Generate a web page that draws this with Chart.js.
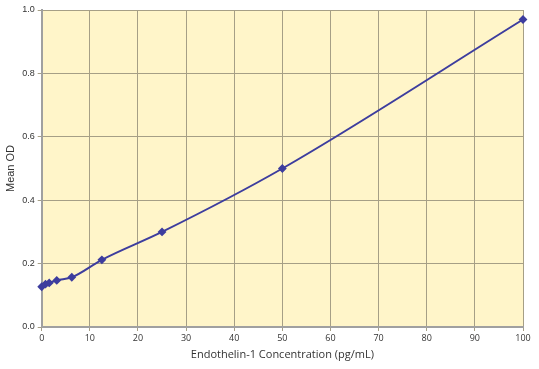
<!DOCTYPE html>
<html>
<head>
<meta charset="utf-8">
<script src="https://cdn.jsdelivr.net/npm/chart.js@4"></script>
<style>
  html, body { margin: 0; padding: 0; background: #fff; }
  #wrap { width: 539px; height: 369px; }
</style>
</head>
<body>
<div id="wrap"><canvas id="odChart"></canvas></div>
<script>
// standard curve data
const concentrations = [0, 0.78, 1.56, 3.125, 6.25, 12.5, 25, 50, 100];
const meanOD = [0.127, 0.135, 0.139, 0.147, 0.157, 0.212, 0.300, 0.500, 0.970];

const xTitle = "Endothelin-1 Concentration (pg/mL)";
const yTitle = "Mean OD";

// fill the plot area with the pale yellow
const areaFill = {
  id: "areaFill",
  beforeDraw(chart) {
    const { ctx, chartArea: a } = chart;
    ctx.save();
    ctx.fillStyle = "#fff5c9";
    ctx.fillRect(a.left, a.top, a.right - a.left, a.bottom - a.top);
    ctx.restore();
  }
};

const points = concentrations.map((c, i) => ({ x: c, y: meanOD[i] }));

new Chart(document.getElementById("odChart"), {
  type: "line",
  data: {
    datasets: [{
      data: points,
      borderColor: "#3d3d9e",
      backgroundColor: "#3d3d9e",
      borderWidth: 2,
      pointStyle: "rectRot",
      pointRadius: 3,
      pointHoverRadius: 3,
      cubicInterpolationMode: "monotone",
      clip: false
    }]
  },
  options: {
    responsive: true,
    maintainAspectRatio: false,
    animation: false,
    layout: { padding: { top: 10, right: 16, left: 0, bottom: 4 } },
    plugins: { legend: { display: false }, tooltip: { enabled: false } },
    scales: {
      x: {
        type: "linear",
        min: 0,
        max: 100,
        ticks: {
          stepSize: 10,
          color: "#333",
          font: { family: "Open Sans", size: 9 },
          padding: 2,
          maxRotation: 0
        },
        grid: { color: "#a69f86", lineWidth: 1, tickLength: 4, drawTicks: true },
        border: { color: "#a0a0a0", width: 2 },
        title: {
          display: true,
          text: xTitle,
          color: "#333",
          font: { family: "Open Sans", size: 11 },
          padding: { top: 2 }
        }
      },
      y: {
        min: 0,
        max: 1,
        ticks: {
          stepSize: 0.2,
          color: "#333",
          font: { family: "Liberation Sans", size: 9 },
          padding: 3,
          callback: v => Number(v).toFixed(1)
        },
        grid: { color: "#a69f86", lineWidth: 1, tickLength: 4 },
        border: { color: "#a0a0a0", width: 2 },
        title: {
          display: true,
          text: yTitle,
          color: "#333",
          font: { family: "Liberation Sans", size: 11 },
          padding: { bottom: 2 }
        }
      }
    }
  },
  plugins: [areaFill]
});
</script>
</body>
</html>
